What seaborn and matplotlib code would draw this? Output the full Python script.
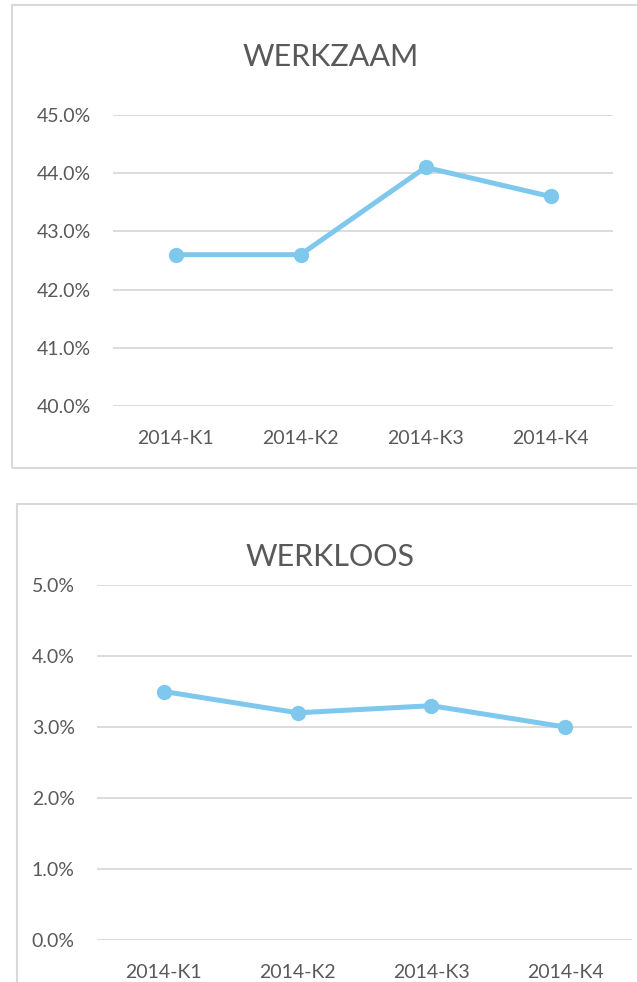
import pandas as pd
import matplotlib
matplotlib.use('Agg')
import matplotlib.pyplot as plt
from matplotlib.patches import Rectangle
from matplotlib.ticker import PercentFormatter, MultipleLocator
import seaborn as sns

# data
quarters = ["2014-K1", "2014-K2", "2014-K3", "2014-K4"]
werkzaam = [42.6, 42.6, 44.1, 43.6]
werkloos = [3.5, 3.2, 3.3, 3.0]

sns.set_theme(style="white")
plt.rcParams['font.family'] = ['Lato', 'DejaVu Sans']

grey_txt = "#595959"
grid_col = "#D9D9D9"
line_col = "#7EC8EE"

W, H = 637, 982
fig = plt.figure(figsize=(W / 100, H / 100), dpi=100)


def px_axes(left, right, top, bottom):
    return fig.add_axes([left / W, 1 - bottom / H, (right - left) / W, (bottom - top) / H])


def draw_panel(ax, values, ymin, ymax):
    df = pd.DataFrame({"quarter": quarters, "value": values})
    sns.lineplot(data=df, x="quarter", y="value", ax=ax, sort=False, color=line_col,
                 linewidth=3.6, marker="o", markersize=11, markeredgewidth=0)
    ax.set_xlim(-0.5, 3.5)
    ax.set_ylim(ymin, ymax)
    ax.yaxis.set_major_locator(MultipleLocator(1))
    ax.yaxis.set_major_formatter(PercentFormatter(100, decimals=1))
    ax.grid(axis="y", color=grid_col, linewidth=1.3)
    ax.set_axisbelow(True)
    for s in ax.spines.values():
        s.set_visible(False)
    ax.tick_params(axis="y", length=0, pad=16, labelsize=14, labelcolor=grey_txt)
    ax.tick_params(axis="x", length=0, pad=17, labelsize=14, labelcolor=grey_txt)
    ax.set_xlabel("")
    ax.set_ylabel("")
    ax.patch.set_alpha(0)


# panel borders
fig.patches.append(Rectangle((12 / W, 1 - 468 / H), 1.2, (468 - 5) / H, transform=fig.transFigure,
                             fill=False, edgecolor=grid_col, linewidth=1.5))
fig.patches.append(Rectangle((17 / W, -0.2), 1.2, 0.2 + 1 - 504 / H, transform=fig.transFigure,
                             fill=False, edgecolor=grid_col, linewidth=1.5))

ax1 = px_axes(113, 613, 115, 406)
draw_panel(ax1, werkzaam, 40, 45)
fig.text(331 / W, 1 - 57 / H, "WERKZAAM", ha="center", va="center", fontsize=22, color=grey_txt)

ax2 = px_axes(97, 632, 585, 940)
draw_panel(ax2, werkloos, 0, 5)
fig.text(330 / W, 1 - 557 / H, "WERKLOOS", ha="center", va="center", fontsize=22, color=grey_txt)

plt.savefig("out.png", dpi=100)
